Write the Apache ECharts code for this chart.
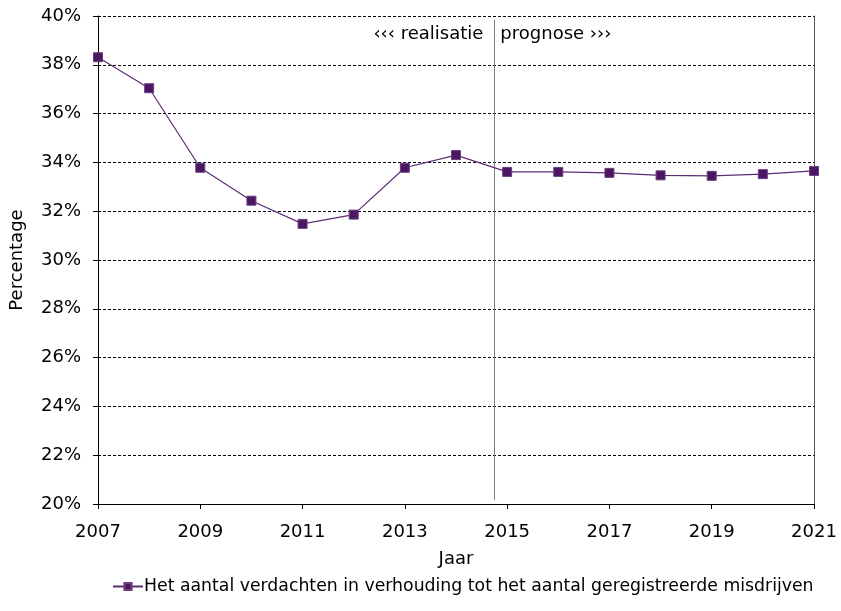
<!DOCTYPE html>
<html>
<head>
<meta charset="utf-8">
<script src="https://cdn.jsdelivr.net/npm/echarts@6/dist/echarts.min.js"></script>
<style>
html,body{margin:0;padding:0;background:#fff;}
#chart{width:841px;height:611px;}
</style>
</head>
<body>
<div id="chart"></div>
<script>
const years = ['2007','2008','2009','2010','2011','2012','2013','2014','2015','2016','2017','2018','2019','2020','2021'];
const ratio = [38.31, 37.04, 33.78, 32.43, 31.48, 31.86, 33.78, 34.30, 33.61, 33.61, 33.57, 33.47, 33.45, 33.52, 33.65];
const seriesName = 'Het aantal verdachten in verhouding tot het aantal geregistreerde misdrijven';
const separatorYear = 2014.75;
const leftText = '\u2039\u2039\u2039 realisatie';
const rightText = 'prognose \u203A\u203A\u203A';

const FONT = 'DejaVu Sans';
const FS = 18;
const chart = echarts.init(document.getElementById('chart'), null, {renderer:'canvas'});
const option = {
  animation: false,
  textStyle: {fontFamily: FONT, color: '#000'},
  grid: {left: 98, right: 27, top: 16, bottom: 107, containLabel: false},
  xAxis: [{
    type: 'category',
    data: years,
    boundaryGap: false,
    name: 'Jaar',
    nameLocation: 'middle',
    nameGap: 46,
    nameTextStyle: {fontFamily: FONT, fontSize: FS, color: '#000'},
    axisLine: {lineStyle: {color: '#000', width: 1}},
    axisTick: {show: true, interval: 1, length: 5, inside: false, lineStyle: {color: '#000'}},
    axisLabel: {interval: 1, fontFamily: FONT, fontSize: FS, color: '#000', margin: 19},
    splitLine: {show: false}
  }, {
    type: 'value',
    min: 2007, max: 2021,
    show: false
  }],
  yAxis: [{
    type: 'value',
    min: 20, max: 40, interval: 2,
    name: 'Percentage',
    nameLocation: 'middle',
    nameGap: 72,
    nameRotate: 90,
    nameTextStyle: {fontFamily: FONT, fontSize: FS, color: '#000'},
    axisLine: {show: true, lineStyle: {color: '#000', width: 1}},
    axisTick: {show: true, length: 5, lineStyle: {color: '#000'}},
    axisLabel: {formatter: '{value}%', fontFamily: FONT, fontSize: FS, color: '#000', margin: 17},
    splitLine: {show: true, lineStyle: {color: '#000', type: [3, 2], width: 1}}
  }, {
    type: 'value',
    min: 20, max: 40, interval: 2,
    position: 'right',
    axisLine: {show: true, lineStyle: {color: '#555', width: 1}},
    axisTick: {show: false},
    axisLabel: {show: false},
    splitLine: {show: false}
  }],
  legend: {
    bottom: 11,
    left: 107,
    itemWidth: 30,
    itemHeight: 9,
    itemGap: 2,
    textStyle: {fontFamily: FONT, fontSize: 17.3, color: '#000', padding: [0, 0, 0, -4]},
    data: [seriesName]
  },
  series: [{
    name: seriesName,
    type: 'line',
    data: ratio,
    symbol: 'rect',
    symbolSize: 9,
    itemStyle: {color: '#4A1760', borderColor: '#6B3F80', borderWidth: 1},
    lineStyle: {color: '#5E2C74', width: 1.2},
    z: 5
  }, {
    name: 'sep',
    type: 'line',
    xAxisIndex: 1,
    yAxisIndex: 0,
    data: [],
    markLine: {
      silent: true,
      symbol: ['none', 'none'],
      label: {show: false},
      lineStyle: {color: '#808080', type: 'solid', width: 1},
      data: [[{coord: [separatorYear, 39.84]}, {coord: [separatorYear, 20.16]}]]
    }
  }],
  graphic: []
};
chart.setOption(option);
const sepX = chart.convertToPixel({xAxisIndex: 1}, separatorYear);
chart.setOption({
  graphic: [
    {type: 'text', x: sepX - 11, y: 34, style: {text: leftText, fontFamily: FONT, fontSize: FS, fill: '#000', textAlign: 'right', textVerticalAlign: 'middle'}},
    {type: 'text', x: sepX + 6, y: 34, style: {text: rightText, fontFamily: FONT, fontSize: FS, fill: '#000', textAlign: 'left', textVerticalAlign: 'middle'}}
  ]
});
</script>
</body>
</html>
